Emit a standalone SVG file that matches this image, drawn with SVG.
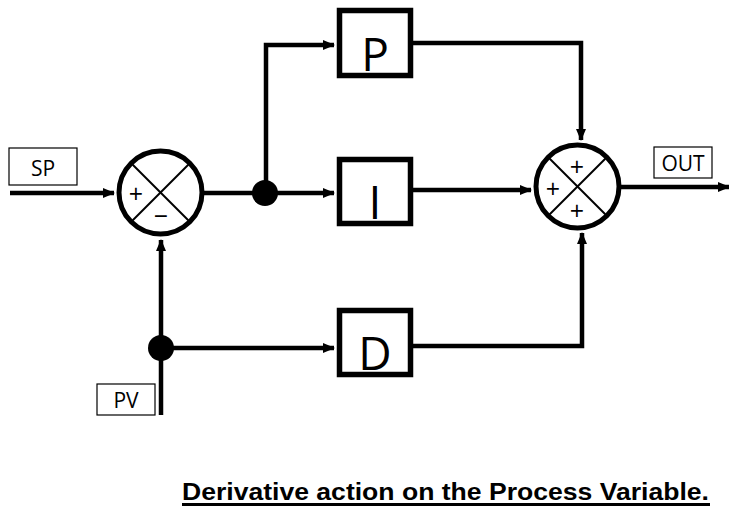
<svg xmlns="http://www.w3.org/2000/svg" width="729" height="510" viewBox="0 0 729 510">
<style>
.ln{fill:none;stroke:#000;stroke-width:4.5}
.box{fill:#fff;stroke:#000;stroke-width:5.5}
.lbl{fill:#fff;stroke:#000;stroke-width:1.2}
.sum{fill:#fff;stroke:#000;stroke-width:5}
.x{stroke:#000;stroke-width:2}
.t{font-family:"Open Sans","Liberation Sans",sans-serif;fill:#000;text-anchor:middle}
.pm{font-family:"Open Sans","Liberation Sans",sans-serif;fill:#000;text-anchor:middle;font-size:25px}
.cap{font-family:"Liberation Sans",Arial,sans-serif;font-weight:bold;font-size:23px}
</style>
<defs>
<marker id="ah" markerUnits="userSpaceOnUse" markerWidth="12" markerHeight="10" refX="11" refY="5" orient="auto">
<path d="M0,0 L12,5 L0,10 Z" fill="#000"/>
</marker>
</defs>
<g id="connectors">
<path class="ln" d="M10,193 H114" marker-end="url(#ah)"/>
<path class="ln" d="M204,193 H334" marker-end="url(#ah)"/>
<path class="ln" d="M266,193 V45 H334" marker-end="url(#ah)"/>
<path class="ln" d="M413,43 H581 V140" marker-end="url(#ah)"/>
<path class="ln" d="M413,190 H531" marker-end="url(#ah)"/>
<path class="ln" d="M413,346 H582 V233" marker-end="url(#ah)"/>
<path class="ln" d="M161,415 V240" marker-end="url(#ah)"/>
<path class="ln" d="M161,348 H334" marker-end="url(#ah)"/>
<path class="ln" d="M620,187 H729" marker-end="url(#ah)"/>
<circle cx="265" cy="193" r="13" fill="#000"/>
<circle cx="161" cy="348" r="13" fill="#000"/>
</g>
<g id="sp"><rect class="lbl" x="9" y="148" width="68" height="37"/><text class="t" x="43" y="176" font-size="21">SP</text></g>
<g id="pv"><rect class="lbl" x="97" y="384" width="58" height="31"/><text class="t" x="126" y="408" font-size="21">PV</text></g>
<g id="out"><rect class="lbl" x="654" y="147" width="58" height="31"/><text class="t" x="683" y="171" font-size="21">OUT</text></g>
<g id="sum1">
<circle class="sum" cx="160.5" cy="192.5" r="41.5"/>
<line class="x" x1="131" y1="163" x2="190" y2="222"/>
<line class="x" x1="190" y1="163" x2="131" y2="222"/>
<text class="pm" x="136" y="203">+</text>
<text class="pm" x="161" y="225">−</text>
</g>
<g id="sum2">
<circle class="sum" cx="577.5" cy="186.5" r="41.5"/>
<line class="x" x1="548" y1="157" x2="607" y2="216"/>
<line class="x" x1="607" y1="157" x2="548" y2="216"/>
<text class="pm" x="577" y="176">+</text>
<text class="pm" x="553" y="198">+</text>
<text class="pm" x="577" y="220">+</text>
</g>
<g id="p"><rect class="box" x="339.5" y="10.5" width="71" height="65"/><text class="t" x="375" y="71" font-size="46">P</text></g>
<g id="i"><rect class="box" x="339.5" y="159.5" width="71" height="64"/><text class="t" x="375" y="219" font-size="46">I</text></g>
<g id="d"><rect class="box" x="339.5" y="310.5" width="71" height="64"/><text class="t" x="375" y="370" font-size="46">D</text></g>
<g id="caption">
<text class="cap" x="182" y="500" textLength="527" lengthAdjust="spacingAndGlyphs">Derivative action on the Process Variable.</text>
<rect x="182" y="503" width="528" height="3" fill="#000"/>
</g>
</svg>
